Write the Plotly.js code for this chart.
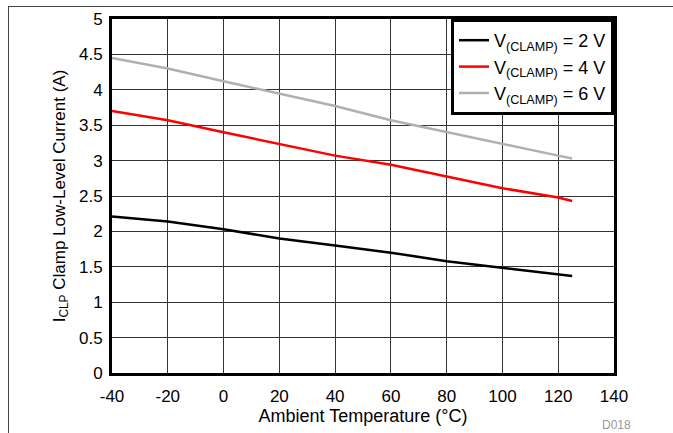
<!DOCTYPE html>
<html><head><meta charset="utf-8">
<script src="https://cdn.plot.ly/plotly-3.0.1.min.js"></script>
<style>
html,body{margin:0;padding:0;background:#fff;}
#wrap{position:relative;width:673px;height:433px;}
#chart{position:absolute;left:0;top:0;width:673px;height:433px;}
#frame{position:absolute;left:8px;top:6px;right:0;bottom:0;border-top:1px solid #444;border-left:1px solid #444;pointer-events:none;}
</style></head>
<body>
<div id="wrap"><div id="chart"></div><div id="frame"></div></div>
<script>
const temps = [-40, -20, 0, 20, 40, 60, 80, 100, 120, 125];
const clamp2V = [2.21, 2.14, 2.03, 1.90, 1.80, 1.70, 1.58, 1.49, 1.40, 1.37];
const clamp4V = [3.70, 3.57, 3.40, 3.23, 3.07, 2.94, 2.77, 2.61, 2.48, 2.43];
const clamp6V = [4.45, 4.30, 4.12, 3.94, 3.77, 3.57, 3.40, 3.24, 3.07, 3.03];
const seriesNames = ['V<sub>(CLAMP)</sub> = 2 V', 'V<sub>(CLAMP)</sub> = 4 V', 'V<sub>(CLAMP)</sub> = 6 V'];
const xTickVals = [-40, -20, 0, 20, 40, 60, 80, 100, 120, 140];
const xTickText = ['-40', '-20', '0', '20', '40', '60', '80', '100', '120', '140'];
const xTitle = 'Ambient Temperature (°C)';
const yTitle = 'I<sub>CLP</sub> Clamp Low-Level Current (A)';

const font = 'Liberation Sans, Arial, sans-serif';
const traces = [
  {x: temps, y: clamp2V, name: seriesNames[0], mode: 'lines', line: {color: '#000000', width: 2.5}},
  {x: temps, y: clamp4V, name: seriesNames[1], mode: 'lines', line: {color: '#ff0000', width: 2.5}},
  {x: temps, y: clamp6V, name: seriesNames[2], mode: 'lines', line: {color: '#b0b0b0', width: 2.5}}
];
const layout = {
  width: 673, height: 433,
  margin: {l: 112, r: 59, t: 19, b: 60},
  paper_bgcolor: '#ffffff', plot_bgcolor: '#ffffff',
  font: {family: font, size: 17, color: '#000'},
  showlegend: true,
  legend: {x: 1, xanchor: 'right', y: 1, yanchor: 'top', bgcolor: '#fff',
           bordercolor: '#000', borderwidth: 3, font: {family: font, size: 18, color: '#000'},
           tracegroupgap: 0},
  xaxis: {range: [-40, 140], tickvals: xTickVals, ticktext: xTickText, showgrid: true, gridcolor: '#333', gridwidth: 1,
          zeroline: false, showline: true, linecolor: '#000', linewidth: 3, mirror: true,
          ticks: '', ticklen: 0, ticklabelstandoff: 6, tickfont: {family: font, size: 17, color: '#000'},
          title: {text: xTitle, font: {family: font, size: 18, color: '#000'}, standoff: 2}},
  yaxis: {range: [0, 5], dtick: 0.5, tick0: 0, showgrid: true, gridcolor: '#333', gridwidth: 1,
          zeroline: false, showline: true, linecolor: '#000', linewidth: 3, mirror: true,
          ticks: '', ticklabelstandoff: 3, tickfont: {family: font, size: 17, color: '#000'},
          title: {text: yTitle, font: {family: font, size: 17, color: '#000'}, standoff: 10}},
  annotations: [{text: 'D018', xref: 'paper', yref: 'paper', x: 1.038, y: -0.147,
                 xanchor: 'right', yanchor: 'middle', showarrow: false,
                 font: {family: font, size: 12, color: '#999'}}]
};
Plotly.newPlot('chart', traces, layout, {staticPlot: true, displayModeBar: false});
</script>
</body></html>
